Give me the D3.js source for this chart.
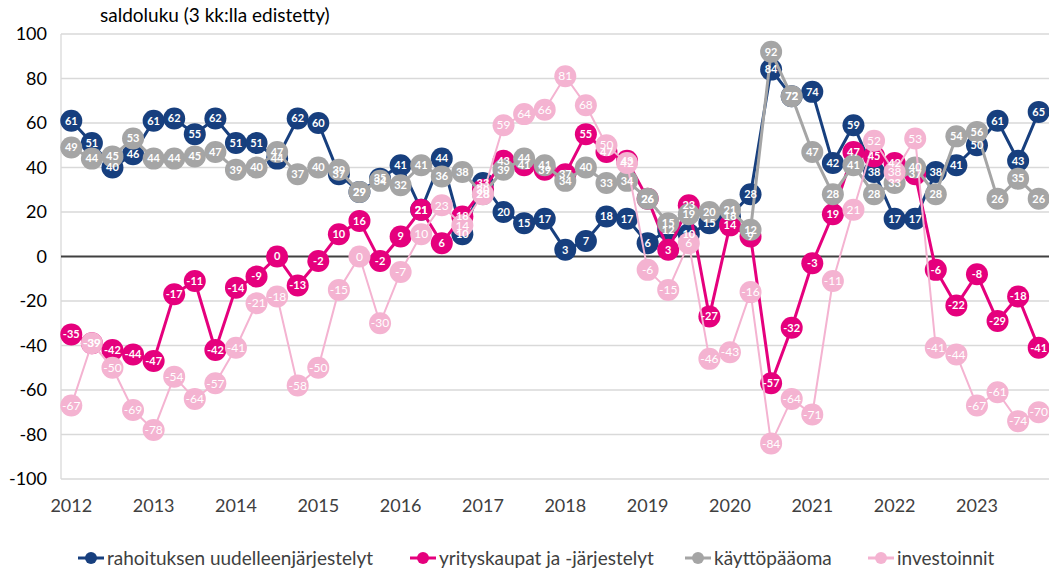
<!DOCTYPE html>
<html>
<head>
<meta charset="utf-8">
<script src="https://cdn.jsdelivr.net/npm/d3@7"></script>
<style>
  body { margin: 0; background: #fff; }
  text { font-family: Lato, "Open Sans", sans-serif; }
</style>
</head>
<body>
<div id="chart"></div>
<script>
// Quarterly values 2012Q1 - 2023Q4
let years = ["2012", "2013", "2014", "2015", "2016", "2017", "2018", "2019", "2020", "2021", "2022", "2023"];
let quarters = [];
years.forEach(y => { for (let q = 1; q <= 4; q++) quarters.push(y + "Q" + q); });

let rahoitus = [61, 51, 40, 46, 61, 62, 55, 62, 51, 51, 44, 62, 60, 37, 29, 35, 41, 21, 44, 10, 33, 20, 15, 17,
    3, 7, 18, 17, 6, 12, 10, 15, 18, 28, 84, 72, 74, 42, 59, 38, 17, 17, 38, 41, 50, 61, 43, 65];
let yrityskaupat = [-35, -39, -42, -44, -47, -17, -11, -42, -14, -9, 0, -13, -2, 10, 16, -2, 9, 21, 6, 18, 30, 43, 41, 39,
    37, 55, 47, 43, 26, 3, 23, -27, 14, 9, -57, -32, -3, 19, 47, 45, 42, 37, -6, -22, -8, -29, -18, -41];
let kayttopaaoma = [49, 44, 45, 53, 44, 44, 45, 47, 39, 40, 47, 37, 40, 39, 29, 34, 32, 41, 36, 38, 28, 39, 44, 41,
    34, 40, 33, 34, 26, 15, 19, 20, 21, 12, 92, 72, 47, 28, 41, 28, 33, 40, 28, 54, 56, 26, 35, 26];
let investoinnit = [-67, -39, -50, -69, -78, -54, -64, -57, -41, -21, -18, -58, -50, -15, 0, -30, -7, 10, 23, 14, 28, 59, 64, 66,
    81, 68, 50, 42, -6, -15, 6, -46, -43, -16, -84, -64, -71, -11, 21, 52, 38, 53, -41, -44, -67, -61, -74, -70];

let yTicks = [-100, -80, -60, -40, -20, 0, 20, 40, 60, 80, 100];

let series = [
    { name: "rahoituksen uudelleenjärjestelyt", values: rahoitus, color: "#173f7e", width: 3, bold: true },
    { name: "yrityskaupat ja -järjestelyt", values: yrityskaupat, color: "#e5007d", width: 3, bold: true },
    { name: "käyttöpääoma", values: kayttopaaoma, color: "#a5a5a5", width: 3, bold: true },
    { name: "investoinnit", values: investoinnit, color: "#f4b3d1", width: 2, bold: false }
];

let svgWidth = 1049;
let svgHeight = 571;
let margin = { top: 34, right: 0, bottom: 92, left: 61 };
let width = svgWidth - margin.left - margin.right;
let height = svgHeight - margin.top - margin.bottom;

let svg = d3.select("#chart")
    .append("svg")
    .attr("width", svgWidth)
    .attr("height", svgHeight);

let chartGroup = svg.append("g")
    .attr("transform", `translate(${margin.left}, ${margin.top})`);

let x = d3.scaleBand()
    .domain(quarters)
    .range([0, width])
    .padding(0);

let y = d3.scaleLinear()
    .domain([-100, 100])
    .range([height, 0]);

let cx = (d, i) => x(quarters[i]) + x.bandwidth() / 2;

// Horizontal gridlines
chartGroup.append("g")
    .selectAll("line")
    .data(yTicks.filter(t => t !== 0))
    .join("line")
    .attr("x1", 0)
    .attr("x2", width)
    .attr("y1", d => y(d))
    .attr("y2", d => y(d))
    .attr("stroke", "#d9d9d9")
    .attr("stroke-width", 1.3);

// Vertical axis line
chartGroup.append("line")
    .attr("x1", 0).attr("x2", 0)
    .attr("y1", 0).attr("y2", height)
    .attr("stroke", "#d9d9d9")
    .attr("stroke-width", 1.3);

// Y axis labels (plain hyphen for negatives, like the original)
let leftAxis = d3.axisLeft(y).tickValues(yTicks).tickFormat(d => String(d)).tickSize(0).tickPadding(14);
chartGroup.append("g")
    .call(leftAxis)
    .call(g => g.select(".domain").remove())
    .selectAll("text")
    .attr("font-size", "18px")
    .attr("fill", "#000");

// X axis labels at first quarter of each year
let bottomAxis = d3.axisBottom(x)
    .tickValues(years.map(yr => yr + "Q1"))
    .tickFormat(q => q.slice(0, 4))
    .tickSize(0)
    .tickPadding(20);
chartGroup.append("g")
    .attr("transform", `translate(0, ${height})`)
    .call(bottomAxis)
    .call(g => g.select(".domain").remove())
    .selectAll("text")
    .attr("font-size", "18px")
    .attr("fill", "#404040");

// Zero line
chartGroup.append("line")
    .attr("x1", 0).attr("x2", width)
    .attr("y1", y(0)).attr("y2", y(0))
    .attr("stroke", "#404040")
    .attr("stroke-width", 2);

let line = d3.line()
    .x(cx)
    .y(d => y(d));

// Draw series: line and markers
series.forEach(s => {
    let g = chartGroup.append("g");
    g.append("path")
        .datum(s.values)
        .attr("fill", "none")
        .attr("stroke", s.color)
        .attr("stroke-width", s.width)
        .attr("stroke-linejoin", "round")
        .attr("d", line);
    g.selectAll("circle")
        .data(s.values)
        .join("circle")
        .attr("cx", cx)
        .attr("cy", d => y(d))
        .attr("r", 11)
        .attr("fill", s.color);
});

// Data labels on top of all markers
series.forEach(s => {
    chartGroup.append("g")
        .selectAll("text")
        .data(s.values)
        .join("text")
        .attr("x", cx)
        .attr("y", d => y(d))
        .attr("dy", "0.35em")
        .attr("text-anchor", "middle")
        .attr("font-size", s.bold ? "11px" : "12px")
        .attr("font-weight", s.bold ? "bold" : "normal")
        .attr("fill", "#fff")
        .text(d => d);
});

// Title
svg.append("text")
    .attr("x", 100)
    .attr("y", 22)
    .attr("font-size", "19px")
    .attr("fill", "#000")
    .text("saldoluku (3 kk:lla edistetty)");

// Legend
let legendX = [78, 410, 685, 868];
let legend = svg.append("g")
    .selectAll("g")
    .data(series)
    .join("g")
    .attr("transform", (d, i) => `translate(${legendX[i]}, 558)`);

legend.append("line")
    .attr("x1", 0).attr("x2", 26)
    .attr("stroke", d => d.color)
    .attr("stroke-width", 3);
legend.append("circle")
    .attr("cx", 13)
    .attr("r", 6)
    .attr("fill", d => d.color);
legend.append("text")
    .attr("x", 29)
    .attr("dy", "0.35em")
    .attr("font-size", "19px")
    .attr("fill", "#404040")
    .text(d => d.name);
</script>
</body>
</html>
